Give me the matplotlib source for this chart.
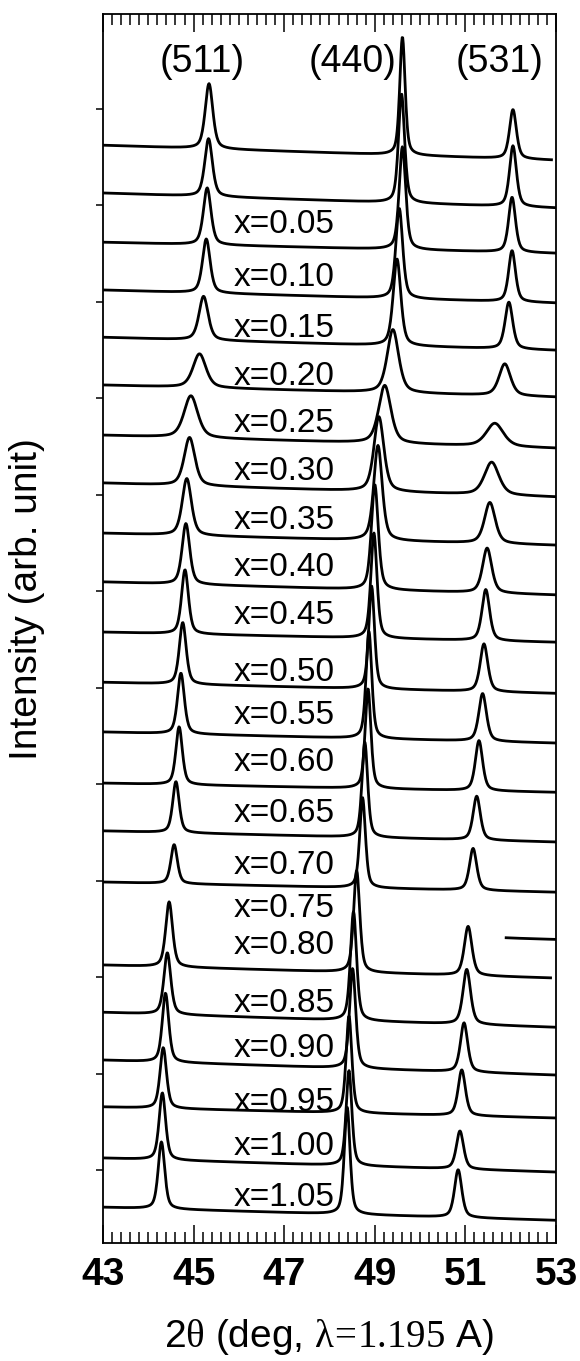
import numpy as np
import matplotlib.pyplot as plt
from matplotlib.ticker import MultipleLocator

plt.rcParams['font.family'] = ['Liberation Sans', 'DejaVu Sans']
plt.rcParams['mathtext.fontset'] = 'custom'
plt.rcParams['mathtext.rm'] = 'Liberation Serif'
plt.rcParams['mathtext.it'] = 'Liberation Serif'

# composition labels (top two curves are unlabelled)
labels = ['', '', 'x=0.05', 'x=0.10', 'x=0.15', 'x=0.20', 'x=0.25', 'x=0.30',
          'x=0.35', 'x=0.40', 'x=0.45', 'x=0.50', 'x=0.55', 'x=0.60', 'x=0.65',
          'x=0.70', 'x=0.75', 'x=0.80', 'x=0.85', 'x=0.90', 'x=0.95', 'x=1.00',
          'x=1.05']

# baseline (left end) of each pattern and its drop towards 53 deg, arb. units
offset = [23.24, 22.25, 21.23, 20.24, 19.26, 18.27, 17.23, 16.24, 15.20, 14.19,
          13.15, 12.11, 11.08, 10.02, 9.03, 7.97, 7.03, 6.25, 5.27, 4.28, 3.31,
          2.25, 1.23]
drop = [0.31, 0.31, 0.23, 0.27, 0.27, 0.25, 0.27, 0.29, 0.25, 0.27, 0.21, 0.23,
        0.23, 0.19, 0.23, 0.21, 0.25, 0.27, 0.31, 0.31, 0.23, 0.29, 0.27]

# (511) peak: position (deg), height, width
pos511 = [45.34, 45.33, 45.30, 45.28, 45.22, 45.13, 44.94, 44.91, 44.85, 44.83,
          44.81, 44.76, 44.72, 44.68, 44.61, 44.57, 44.52, 44.46, 44.42, 44.38,
          44.33, 44.31, 44.29]
h511 = [1.35, 1.20, 1.18, 1.12, 0.91, 0.70, 0.87, 1.00, 1.18, 1.26, 1.33, 1.28,
        1.26, 1.20, 1.06, 0.81, 1.10, 1.35, 1.28, 1.43, 1.26, 1.39, 1.39]
w511 = [0.20, 0.20, 0.20, 0.20, 0.24, 0.34, 0.36, 0.28, 0.24, 0.20, 0.18, 0.18,
        0.18, 0.17, 0.17, 0.17, 0.18, 0.18, 0.18, 0.17, 0.17, 0.17, 0.17]

# (440) peak
pos440 = [49.61, 49.59, 49.61, 49.54, 49.49, 49.40, 49.22, 49.09, 49.07, 49.00,
          48.98, 48.93, 48.87, 48.85, 48.78, 48.73, 48.66, 48.60, 48.53, 48.51,
          48.43, 48.43, 48.39]
h440 = [2.45, 2.26, 2.13, 1.87, 1.80, 1.31, 1.20, 1.55, 1.97, 2.18, 2.18, 2.13,
        2.22, 2.07, 1.97, 1.87, 2.00, 2.11, 2.26, 2.07, 2.01, 1.97, 2.22]
w440 = [0.14, 0.16, 0.17, 0.18, 0.20, 0.30, 0.32, 0.26, 0.22, 0.18, 0.16, 0.15,
        0.15, 0.15, 0.15, 0.15, 0.16, 0.16, 0.16, 0.16, 0.15, 0.15, 0.15]

# (531) peak
pos531 = [52.05, 52.05, 52.03, 52.03, 51.96, 51.87, 51.65, 51.58, 51.54, 51.48,
          51.45, 51.41, 51.38, 51.30, 51.25, 51.17, 51.12, 51.06, 51.03, 50.97,
          50.92, 50.88, 50.84]
h531 = [1.02, 1.26, 1.14, 1.06, 0.97, 0.66, 0.48, 0.68, 0.85, 0.93, 1.06, 0.99,
        0.99, 1.04, 0.91, 0.87, 1.00, 1.02, 1.14, 1.02, 0.95, 0.79, 0.99]
w531 = [0.18, 0.18, 0.18, 0.18, 0.20, 0.30, 0.45, 0.38, 0.28, 0.24, 0.20, 0.20,
        0.20, 0.19, 0.19, 0.19, 0.20, 0.20, 0.20, 0.19, 0.19, 0.19, 0.19]

# measured range of each scan (x=0.75 only survives above 51.9 deg)
x_start = [43.0] * 16 + [51.9] + [43.0] * 6
x_end = [52.9] + [53.0] * 16 + [52.88] + [53.0] * 5

# label heights (arb. units)
label_y = [None, None, 21.59, 20.49, 19.45, 18.44, 17.48, 16.47, 15.47, 14.48,
           13.50, 12.32, 11.43, 10.44, 9.40, 8.32, 7.43, 6.66, 5.46, 4.53, 3.41,
           2.48, 1.44]


def peak(x, x0, h, w):
    # pseudo-Voigt profile
    g = np.exp(-4 * np.log(2) * ((x - x0) / w) ** 2)
    lor = 1.0 / (1.0 + 4 * ((x - x0) / w) ** 2)
    return h * (0.5 * g + 0.5 * lor)


fig = plt.figure(figsize=(5.8, 13.61), dpi=100)
ax = fig.add_axes([0.1776, 0.0867, 0.781, 0.9030])

for i in range(len(offset)):
    x = np.linspace(x_start[i], x_end[i], 800)
    y = offset[i] - drop[i] * (x - 43.0) / 10.0
    y = y + peak(x, pos511[i], h511[i], w511[i])
    y = y + peak(x, pos440[i], h440[i], w440[i])
    y = y + peak(x, pos531[i], h531[i], w531[i])
    ax.plot(x, y, color='black', lw=2.0)
    if labels[i]:
        ax.text(47.0, label_y[i], labels[i], fontsize=24, ha='center',
                va='center')

for txt, xp in [('(511)', 45.2), ('(440)', 48.52), ('(531)', 51.76)]:
    ax.text(xp, 24.96, txt, fontsize=27, ha='center', va='center')

ax.set_xlim(43, 53)
ax.set_ylim(0.49, 25.96)
ax.xaxis.set_minor_locator(MultipleLocator(0.2))
ax.set_xticks([43, 45, 47, 49, 51, 53])
ax.tick_params(axis='x', which='both', direction='in', top=True, bottom=True,
               width=1.1)
ax.tick_params(axis='x', which='major', length=13, labelsize=28, pad=10)
ax.tick_params(axis='x', which='minor', length=8)
for t in ax.get_xticklabels():
    t.set_fontweight('bold')

ax.set_yticks(np.arange(2, 25, 2))
ax.tick_params(axis='y', which='major', direction='out', length=5, width=1.1,
               labelleft=False)
for s in ax.spines.values():
    s.set_linewidth(1.3)

fig.text(0.568, 0.018,
         r'2$\mathrm{\theta}$ (deg, $\mathrm{\lambda}\!=\!\mathrm{1.195}$ A)',
         fontsize=28, ha='center', va='center')
fig.text(0.047, 0.56, 'Intensity (arb. unit)', fontsize=28, rotation=90,
         ha='center', va='center')

fig.savefig('out.png', dpi=100)
